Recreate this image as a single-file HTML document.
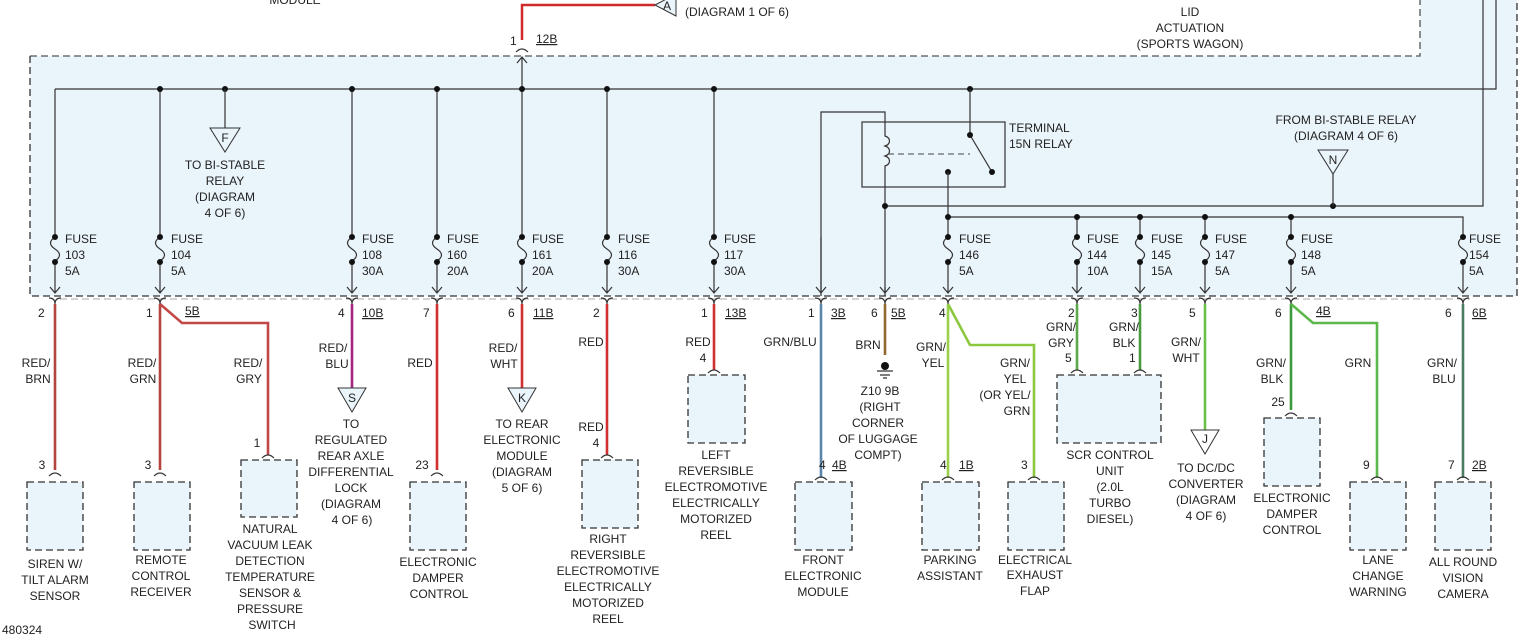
<!DOCTYPE html>
<html><head><meta charset="utf-8"><style>
html,body{margin:0;padding:0;background:#fff}
svg{display:block}
text{font-family:"Liberation Sans",sans-serif;font-size:12px;fill:#222}
.m{text-anchor:middle}
.bx{fill:#eaf4fb;stroke:#333;stroke-width:1.3;stroke-dasharray:7,4}
.w{fill:none;stroke:#333;stroke-width:1.2}
.d{fill:#111}
</style></head><body>
<svg width="1530" height="635" viewBox="0 0 1530 635" xmlns="http://www.w3.org/2000/svg">
<path d="M30,56 H1420 V0 H1517 V296 H30 Z" fill="#eaf4fb"/>
<path d="M30,56 H1420 V0" fill="none" stroke="#555" stroke-width="1.3" stroke-dasharray="7,4"/>
<path d="M30,56 V296 H1517 V0" fill="none" stroke="#333" stroke-width="1.3" stroke-dasharray="7,4"/>
<path d="M60,299 H1470" fill="none" stroke="#bbb" stroke-width="1.3" stroke-dasharray="7,4"/>
<text x="295" y="4" class="m">MODULE</text>
<text x="1190" y="16" class="m">LID</text>
<text x="1190" y="32" class="m">ACTUATION</text>
<text x="1190" y="48" class="m">(SPORTS WAGON)</text>
<path d="M522,40 V5 H655" fill="none" stroke="#d02a2a" stroke-width="2.5"/>
<path d="M655,5 L676,-6 L676,16 Z" fill="#eaf4fb" stroke="#333"/>
<text x="663" y="10" font-size="10">A</text>
<text x="685" y="16">(DIAGRAM 1 OF 6)</text>
<text x="510" y="45">1</text><text x="536" y="43" text-decoration="underline">12B</text>
<path d="M516,52 q6,-6 12,0" class="w"/>
<path d="M522,89 V58 M517,63 L522,57 L527,63" class="w"/>
<path d="M55,89 H1496 V0" class="w"/>
<path d="M1483,0 V206 H885" class="w"/>
<g class="w"><path d="M55,89 V237 M160,89 V237 M352,89 V237 M437,89 V237 M522,89 V237 M607,89 V237 M714,89 V237"/></g>
<g class="d"><circle cx="160" cy="89" r="3"/><circle cx="225" cy="89" r="3"/><circle cx="352" cy="89" r="3"/><circle cx="437" cy="89" r="3"/><circle cx="522" cy="89" r="3"/><circle cx="607" cy="89" r="3"/><circle cx="714" cy="89" r="3"/><circle cx="970" cy="89" r="3"/></g>
<path d="M225,89 V128" class="w"/>
<path d="M210,128 H240 L225,152 Z" fill="#eaf4fb" stroke="#333"/>
<text x="225" y="142" class="m" font-size="11">F</text>
<text x="225" y="169" class="m">TO BI-STABLE</text>
<text x="225" y="185" class="m">RELAY</text>
<text x="225" y="201" class="m">(DIAGRAM</text>
<text x="225" y="217" class="m">4 OF 6)</text>
<rect x="862" y="122" width="143" height="65" fill="#eaf4fb" stroke="#333" stroke-width="1.2"/>
<text x="1009" y="132">TERMINAL</text><text x="1009" y="148">15N RELAY</text>
<path d="M821,296 V112 H885 V136 c6,2 6,8 0,10 c6,2 6,8 0,10 c6,2 6,8 0,10 V296" class="w"/>
<path d="M888,154 H970" fill="none" stroke="#444" stroke-dasharray="6,4"/>
<path d="M970,89 V135 L992,172" class="w"/>
<circle cx="970" cy="135" r="3" class="d"/><circle cx="992" cy="172" r="3" class="d"/>
<circle cx="948" cy="172" r="3" class="d"/>
<path d="M948,172 V237 M948,217 H1463 V237 M1077,217 V237 M1140,217 V237 M1205,217 V237 M1291,217 V237" class="w"/>
<g class="d"><circle cx="885" cy="206" r="3"/><circle cx="1333" cy="206" r="3"/><circle cx="948" cy="217" r="3"/><circle cx="1077" cy="217" r="3"/><circle cx="1140" cy="217" r="3"/><circle cx="1205" cy="217" r="3"/><circle cx="1291" cy="217" r="3"/></g>
<text x="1346" y="124" class="m">FROM BI-STABLE RELAY</text>
<text x="1346" y="140" class="m">(DIAGRAM 4 OF 6)</text>
<path d="M1318,150 H1348 L1333,174 Z" fill="#eaf4fb" stroke="#333"/>
<text x="1333" y="164" class="m" font-size="11">N</text>
<path d="M1333,174 V206" class="w"/>
<g>
<path class="w" d="M55,237 c-6,4 -6,8 0,12 c6,4 6,8 0,12 V293 M50,287 L55,293 L60,287 M160,237 c-6,4 -6,8 0,12 c6,4 6,8 0,12 V293 M155,287 L160,293 L165,287 M352,237 c-6,4 -6,8 0,12 c6,4 6,8 0,12 V293 M347,287 L352,293 L357,287 M437,237 c-6,4 -6,8 0,12 c6,4 6,8 0,12 V293 M432,287 L437,293 L442,287 M522,237 c-6,4 -6,8 0,12 c6,4 6,8 0,12 V293 M517,287 L522,293 L527,287 M607,237 c-6,4 -6,8 0,12 c6,4 6,8 0,12 V293 M602,287 L607,293 L612,287 M714,237 c-6,4 -6,8 0,12 c6,4 6,8 0,12 V293 M709,287 L714,293 L719,287 M948,237 c-6,4 -6,8 0,12 c6,4 6,8 0,12 V293 M943,287 L948,293 L953,287 M1077,237 c-6,4 -6,8 0,12 c6,4 6,8 0,12 V293 M1072,287 L1077,293 L1082,287 M1140,237 c-6,4 -6,8 0,12 c6,4 6,8 0,12 V293 M1135,287 L1140,293 L1145,287 M1205,237 c-6,4 -6,8 0,12 c6,4 6,8 0,12 V293 M1200,287 L1205,293 L1210,287 M1291,237 c-6,4 -6,8 0,12 c6,4 6,8 0,12 V293 M1286,287 L1291,293 L1296,287 M1463,237 c-6,4 -6,8 0,12 c6,4 6,8 0,12 V293 M1458,287 L1463,293 L1468,287 M821,237 V293 M816,287 L821,293 L826,287 M885,287 L885,293 M880,287 L885,293 L890,287"/>
<g class="d">
<circle cx="55" cy="237" r="3"/><circle cx="55" cy="262" r="3"/><circle cx="160" cy="237" r="3"/><circle cx="160" cy="262" r="3"/><circle cx="352" cy="237" r="3"/><circle cx="352" cy="262" r="3"/><circle cx="437" cy="237" r="3"/><circle cx="437" cy="262" r="3"/><circle cx="522" cy="237" r="3"/><circle cx="522" cy="262" r="3"/><circle cx="607" cy="237" r="3"/><circle cx="607" cy="262" r="3"/><circle cx="714" cy="237" r="3"/><circle cx="714" cy="262" r="3"/><circle cx="948" cy="237" r="3"/><circle cx="948" cy="262" r="3"/><circle cx="1077" cy="237" r="3"/><circle cx="1077" cy="262" r="3"/><circle cx="1140" cy="237" r="3"/><circle cx="1140" cy="262" r="3"/><circle cx="1205" cy="237" r="3"/><circle cx="1205" cy="262" r="3"/><circle cx="1291" cy="237" r="3"/><circle cx="1291" cy="262" r="3"/><circle cx="1463" cy="237" r="3"/><circle cx="1463" cy="262" r="3"/>
</g>
<text x="65" y="243">FUSE</text><text x="65" y="259">103</text><text x="65" y="275">5A</text>
<text x="171" y="243">FUSE</text><text x="171" y="259">104</text><text x="171" y="275">5A</text>
<text x="362" y="243">FUSE</text><text x="362" y="259">108</text><text x="362" y="275">30A</text>
<text x="447" y="243">FUSE</text><text x="447" y="259">160</text><text x="447" y="275">20A</text>
<text x="532" y="243">FUSE</text><text x="532" y="259">161</text><text x="532" y="275">20A</text>
<text x="618" y="243">FUSE</text><text x="618" y="259">116</text><text x="618" y="275">30A</text>
<text x="724" y="243">FUSE</text><text x="724" y="259">117</text><text x="724" y="275">30A</text>
<text x="959" y="243">FUSE</text><text x="959" y="259">146</text><text x="959" y="275">5A</text>
<text x="1087" y="243">FUSE</text><text x="1087" y="259">144</text><text x="1087" y="275">10A</text>
<text x="1151" y="243">FUSE</text><text x="1151" y="259">145</text><text x="1151" y="275">15A</text>
<text x="1215" y="243">FUSE</text><text x="1215" y="259">147</text><text x="1215" y="275">5A</text>
<text x="1301" y="243">FUSE</text><text x="1301" y="259">148</text><text x="1301" y="275">5A</text>
<text x="1469" y="243">FUSE</text><text x="1469" y="259">154</text><text x="1469" y="275">5A</text>
</g>
<path class="w" d="M49,298 q6,0 6,6 q0,-6 6,-6 M154,298 q6,0 6,6 q0,-6 6,-6 M346,298 q6,0 6,6 q0,-6 6,-6 M431,298 q6,0 6,6 q0,-6 6,-6 M516,298 q6,0 6,6 q0,-6 6,-6 M601,298 q6,0 6,6 q0,-6 6,-6 M708,298 q6,0 6,6 q0,-6 6,-6 M815,298 q6,0 6,6 q0,-6 6,-6 M879,298 q6,0 6,6 q0,-6 6,-6 M942,298 q6,0 6,6 q0,-6 6,-6 M1071,298 q6,0 6,6 q0,-6 6,-6 M1134,298 q6,0 6,6 q0,-6 6,-6 M1199,298 q6,0 6,6 q0,-6 6,-6 M1285,298 q6,0 6,6 q0,-6 6,-6 M1457,298 q6,0 6,6 q0,-6 6,-6"/>
<text x="38" y="317">2</text><text x="146" y="317">1</text><text x="185" y="315" text-decoration="underline">5B</text>
<text x="338" y="317">4</text><text x="362" y="317" text-decoration="underline">10B</text>
<text x="423" y="317">7</text>
<text x="508" y="317">6</text><text x="533" y="317" text-decoration="underline">11B</text>
<text x="593" y="317">2</text>
<text x="701" y="317">1</text><text x="725" y="317" text-decoration="underline">13B</text>
<text x="808" y="317">1</text><text x="831" y="317" text-decoration="underline">3B</text>
<text x="871" y="317">6</text><text x="891" y="317" text-decoration="underline">5B</text>
<text x="939" y="317">4</text>
<text x="1068" y="317">2</text><text x="1131" y="317">3</text><text x="1189" y="317">5</text>
<text x="1275" y="317">6</text><text x="1316" y="315" text-decoration="underline">4B</text>
<text x="1445" y="317">6</text><text x="1472" y="317" text-decoration="underline">6B</text>
<g fill="none" stroke-width="2.6">
<path d="M55,304 V470" stroke="#b2463e"/>
<path d="M160,304 V470" stroke="#b2463e"/>
<path d="M160,304 L182,323 H268 V455" stroke="#c24848"/>
<path d="M352,304 V388" stroke="#a4237e"/>
<path d="M437,304 V470" stroke="#d23030"/>
<path d="M522,304 V388" stroke="#d23030"/>
<path d="M607,304 V455" stroke="#d23030"/>
<path d="M714,304 V370" stroke="#d23030"/>
<path d="M821,304 V478" stroke="#5a84a8"/>
<path d="M885,304 V355" stroke="#8f6a2c"/>
<path d="M948,304 V478" stroke="#9ad04a"/>
<path d="M948,304 L970,345 H1034 V478" stroke="#8cc83e"/>
<path d="M1077,304 V370" stroke="#5ea84a"/>
<path d="M1140,304 V370" stroke="#4a9a40"/>
<path d="M1205,304 V430" stroke="#6cc04a"/>
<path d="M1291,304 V410" stroke="#3e9a3e"/>
<path d="M1291,304 L1313,323 H1377 V478" stroke="#5cb84a"/>
<path d="M1463,304 V478" stroke="#4a7e62"/>
</g>
<text x="36" y="367" class="m">RED/</text><text x="38" y="383" class="m">BRN</text>
<text x="142" y="367" class="m">RED/</text><text x="143" y="383" class="m">GRN</text>
<text x="248" y="367" class="m">RED/</text><text x="249" y="383" class="m">GRY</text>
<text x="333" y="352" class="m">RED/</text><text x="337" y="368" class="m">BLU</text>
<text x="420" y="367" class="m">RED</text>
<text x="503" y="352" class="m">RED/</text><text x="504" y="368" class="m">WHT</text>
<text x="591" y="346" class="m">RED</text>
<text x="591" y="431" class="m">RED</text><text x="596" y="447" class="m">4</text>
<text x="698" y="346" class="m">RED</text><text x="703" y="362" class="m">4</text>
<text x="790" y="346" class="m">GRN/BLU</text>
<text x="868" y="349" class="m">BRN</text>
<text x="931" y="351" class="m">GRN/</text><text x="933" y="367" class="m">YEL</text>
<text x="1015" y="367" class="m">GRN/</text><text x="1015" y="383" class="m">YEL</text><text x="1005" y="399" class="m">(OR YEL/</text><text x="1017" y="415" class="m">GRN</text>
<text x="1061" y="331" class="m">GRN/</text><text x="1061" y="347" class="m">GRY</text>
<text x="1124" y="331" class="m">GRN/</text><text x="1124" y="347" class="m">BLK</text>
<text x="1186" y="346" class="m">GRN/</text><text x="1186" y="362" class="m">WHT</text>
<text x="1271" y="367" class="m">GRN/</text><text x="1272" y="383" class="m">BLK</text>
<text x="1358" y="367" class="m">GRN</text>
<text x="1442" y="367" class="m">GRN/</text><text x="1444" y="383" class="m">BLU</text>
<circle cx="885" cy="366" r="4" class="d"/>
<path d="M877,371 H893 M880,375 H890 M883,378 H887" class="w"/>
<text x="880" y="395" class="m">Z10 9B</text>
<text x="880" y="411" class="m">(RIGHT</text>
<text x="878" y="427" class="m">CORNER</text>
<text x="878" y="443" class="m">OF LUGGAGE</text>
<text x="878" y="459" class="m">COMPT)</text>
<path d="M338,388 H366 L352,412 Z" fill="#eaf4fb" stroke="#333"/><text x="352" y="402" class="m" font-size="11">S</text>
<path d="M508,388 H536 L522,412 Z" fill="#eaf4fb" stroke="#333"/><text x="522" y="402" class="m" font-size="11">K</text>
<path d="M1191,430 H1219 L1205,454 Z" fill="#fff" stroke="#333"/><text x="1205" y="443" class="m" font-size="11">J</text>
<text x="351" y="428" class="m">TO</text><text x="351" y="444" class="m">REGULATED</text><text x="351" y="460" class="m">REAR AXLE</text><text x="351" y="476" class="m">DIFFERENTIAL</text><text x="351" y="492" class="m">LOCK</text><text x="351" y="508" class="m">(DIAGRAM</text><text x="352" y="524" class="m">4 OF 6)</text>
<text x="522" y="428" class="m">TO REAR</text><text x="522" y="444" class="m">ELECTRONIC</text><text x="522" y="460" class="m">MODULE</text><text x="522" y="476" class="m">(DIAGRAM</text><text x="522" y="492" class="m">5 OF 6)</text>
<text x="1206" y="472" class="m">TO DC/DC</text><text x="1206" y="488" class="m">CONVERTER</text><text x="1206" y="504" class="m">(DIAGRAM</text><text x="1206" y="520" class="m">4 OF 6)</text>
<text x="42" y="469" class="m">3</text><text x="148" y="469" class="m">3</text><text x="257" y="447" class="m">1</text>
<text x="422" y="469" class="m">23</text><text x="819" y="469">4</text><text x="832" y="469" text-decoration="underline">4B</text>
<text x="940" y="469">4</text><text x="959" y="469" text-decoration="underline">1B</text><text x="1021" y="469">3</text>
<text x="1065" y="362">5</text><text x="1129" y="362">1</text>
<text x="1278" y="406" class="m">25</text><text x="1363" y="469">9</text>
<text x="1448" y="469">7</text><text x="1472" y="469" text-decoration="underline">2B</text>
<path class="w" d="M49,476 q6,-6 12,0 M154,476 q6,-6 12,0 M262,458 q6,-6 12,0 M431,476 q6,-6 12,0 M601,458 q6,-6 12,0 M708,373 q6,-6 12,0 M815,480 q6,-6 12,0 M942,480 q6,-6 12,0 M1028,480 q6,-6 12,0 M1071,373 q6,-6 12,0 M1134,373 q6,-6 12,0 M1285,416 q6,-6 12,0 M1371,480 q6,-6 12,0 M1457,480 q6,-6 12,0"/>
<rect class="bx" x="27" y="482" width="56" height="68"/>
<rect class="bx" x="134" y="482" width="56" height="68"/>
<rect class="bx" x="241" y="460" width="56" height="57"/>
<rect class="bx" x="410" y="482" width="56" height="68"/>
<rect class="bx" x="582" y="460" width="56" height="68"/>
<rect class="bx" x="688" y="375" width="57" height="68"/>
<rect class="bx" x="795" y="482" width="57" height="68"/>
<rect class="bx" x="922" y="482" width="57" height="68"/>
<rect class="bx" x="1008" y="482" width="56" height="68"/>
<rect class="bx" x="1057" y="375" width="104" height="68"/>
<rect class="bx" x="1264" y="418" width="56" height="68"/>
<rect class="bx" x="1350" y="482" width="56" height="68"/>
<rect class="bx" x="1435" y="482" width="56" height="68"/>
<text x="55" y="568" class="m">SIREN W/</text><text x="55" y="584" class="m">TILT ALARM</text><text x="55" y="600" class="m">SENSOR</text>
<text x="161" y="564" class="m">REMOTE</text><text x="161" y="580" class="m">CONTROL</text><text x="161" y="596" class="m">RECEIVER</text>
<text x="270" y="533" class="m">NATURAL</text><text x="270" y="549" class="m">VACUUM LEAK</text><text x="270" y="565" class="m">DETECTION</text><text x="270" y="581" class="m">TEMPERATURE</text><text x="270" y="597" class="m">SENSOR &amp;</text><text x="270" y="613" class="m">PRESSURE</text><text x="272" y="629" class="m">SWITCH</text>
<text x="438" y="566" class="m">ELECTRONIC</text><text x="438" y="582" class="m">DAMPER</text><text x="439" y="598" class="m">CONTROL</text>
<text x="608" y="543" class="m">RIGHT</text><text x="608" y="559" class="m">REVERSIBLE</text><text x="608" y="575" class="m">ELECTROMOTIVE</text><text x="608" y="591" class="m">ELECTRICALLY</text><text x="608" y="607" class="m">MOTORIZED</text><text x="608" y="623" class="m">REEL</text>
<text x="716" y="459" class="m">LEFT</text><text x="716" y="475" class="m">REVERSIBLE</text><text x="716" y="491" class="m">ELECTROMOTIVE</text><text x="716" y="507" class="m">ELECTRICALLY</text><text x="716" y="523" class="m">MOTORIZED</text><text x="716" y="539" class="m">REEL</text>
<text x="823" y="564" class="m">FRONT</text><text x="823" y="580" class="m">ELECTRONIC</text><text x="823" y="596" class="m">MODULE</text>
<text x="950" y="564" class="m">PARKING</text><text x="950" y="580" class="m">ASSISTANT</text>
<text x="1035" y="564" class="m">ELECTRICAL</text><text x="1035" y="579" class="m">EXHAUST</text><text x="1035" y="595" class="m">FLAP</text>
<text x="1110" y="459" class="m">SCR CONTROL</text><text x="1110" y="475" class="m">UNIT</text><text x="1110" y="491" class="m">(2.0L</text><text x="1110" y="507" class="m">TURBO</text><text x="1110" y="523" class="m">DIESEL)</text>
<text x="1292" y="502" class="m">ELECTRONIC</text><text x="1292" y="518" class="m">DAMPER</text><text x="1292" y="534" class="m">CONTROL</text>
<text x="1378" y="564" class="m">LANE</text><text x="1378" y="580" class="m">CHANGE</text><text x="1378" y="596" class="m">WARNING</text>
<text x="1463" y="566" class="m">ALL ROUND</text><text x="1463" y="582" class="m">VISION</text><text x="1463" y="598" class="m">CAMERA</text>
<text x="2" y="634">480324</text>
</svg>
</body></html>
